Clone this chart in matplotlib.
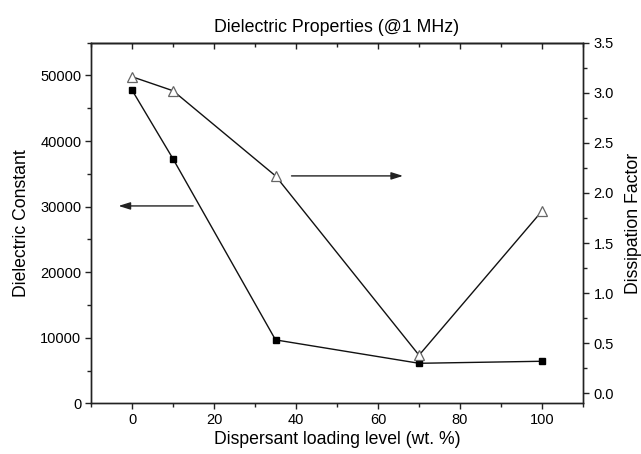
import matplotlib.pyplot as plt
from matplotlib.ticker import MultipleLocator

plt.rcParams['font.family'] = ['Liberation Sans', 'DejaVu Sans']

loading = [0, 10, 35, 70, 100]
dielectric_constant = [47770, 37280, 9670, 6100, 6410]
dissipation_factor = [3.16, 3.02, 2.17, 0.38, 1.82]

fig = plt.figure(figsize=(6.41, 4.54), dpi=100)
ax = fig.add_axes([0.142, 0.1117, 0.7676, 0.7943])
ax2 = ax.twinx()

ax.plot(loading, dielectric_constant, color='#111111', lw=1.0, marker='s',
        markersize=4.5, markerfacecolor='black', markeredgecolor='black', zorder=3)
ax2.plot(loading, dissipation_factor, color='#111111', lw=1.0, marker='^',
         markersize=6.5, markerfacecolor='white', markeredgecolor='#666666',
         markeredgewidth=0.9, zorder=3)

ax.set_xlim(-10, 110)
ax.set_ylim(0, 55000)
ax2.set_ylim(-0.1, 3.5)

for a in (ax, ax2):
    for s in a.spines.values():
        s.set_linewidth(1.0)
        s.set_color('#222222')

ax.xaxis.set_major_locator(MultipleLocator(20))
ax.xaxis.set_minor_locator(MultipleLocator(10))
ax.yaxis.set_major_locator(MultipleLocator(10000))
ax.yaxis.set_minor_locator(MultipleLocator(5000))
ax2.yaxis.set_major_locator(MultipleLocator(0.5))
ax2.yaxis.set_minor_locator(MultipleLocator(0.25))

ax.tick_params(which='both', direction='out', width=1.0, color='#222222',
               labelsize=10.5, pad=2.5)
ax.tick_params(which='major', length=4.5)
ax.tick_params(which='minor', length=3)
ax2.tick_params(which='both', direction='out', width=1.0, color='#222222',
                labelsize=10.5, pad=3)
ax2.tick_params(which='major', length=4.5)
ax2.tick_params(which='minor', length=3)

# top axis ticks point inward
top = ax.secondary_xaxis('top')
top.xaxis.set_major_locator(MultipleLocator(20))
top.xaxis.set_minor_locator(MultipleLocator(10))
top.tick_params(which='both', direction='in', width=1.0, color='#222222',
                labeltop=False)
top.tick_params(which='major', length=4.5)
top.tick_params(which='minor', length=3)
top.spines['top'].set_linewidth(1.0)

ax.set_xlabel('Dispersant loading level (wt. %)', fontsize=12.7, labelpad=3)
ax.set_ylabel('Dielectric Constant', fontsize=12.7, labelpad=7)
ax2.set_ylabel('Dissipation Factor', fontsize=12.7, labelpad=8)
ax.set_title('Dielectric Properties (@1 MHz)', fontsize=12.8, pad=8)

arrow = dict(arrowstyle='-|>,head_length=0.7,head_width=0.22', color='#222222',
             lw=1.0, mutation_scale=10, shrinkA=0, shrinkB=0)
ax.annotate('', xy=(-3.3, 30100), xytext=(14.9, 30100), arrowprops=arrow)
ax2.annotate('', xy=(66.1, 2.17), xytext=(38.9, 2.17), arrowprops=arrow)

plt.savefig('out.png', dpi=100)
